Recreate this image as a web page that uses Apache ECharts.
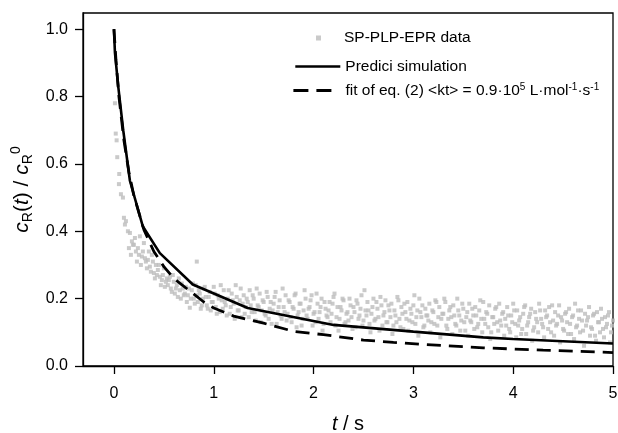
<!DOCTYPE html>
<html>
<head>
<meta charset="utf-8">
<script src="https://cdn.jsdelivr.net/npm/echarts@6/dist/echarts.min.js"></script>
<style>html,body{margin:0;padding:0;background:#fff}#c{width:618px;height:433px}</style>
</head>
<body>
<div id="c"></div>
<script>
// SP-PLP-EPR data: [t / s, cR(t)/cR0]
var epsData = [
[0.01,0.78],[0.018,0.69],[0.027,0.67],[0.033,0.62],[0.05,0.54],[0.053,0.57],[0.07,0.51],[0.09,0.50],[0.10,0.44],[0.11,0.42],[0.12,0.43],
[0.14,0.40],[0.15,0.35],[0.16,0.395],[0.17,0.33],[0.18,0.37],[0.19,0.36],[0.20,0.36],[0.21,0.38],[0.22,0.34],[0.23,0.31],
[0.24,0.35],[0.25,0.33],[0.26,0.385],[0.27,0.30],[0.28,0.325],[0.29,0.34],[0.30,0.365],[0.31,0.32],[0.32,0.31],[0.33,0.29],
[0.34,0.315],[0.35,0.34],[0.36,0.295],[0.37,0.28],[0.38,0.33],[0.39,0.31],[0.40,0.276],[0.41,0.26],[0.42,0.30],[0.43,0.27],
[0.44,0.285],[0.45,0.30],[0.46,0.265],[0.47,0.24],[0.48,0.255],[0.49,0.27],[0.50,0.29],[0.51,0.235],[0.52,0.25],[0.53,0.26],
[0.54,0.24],[0.56,0.265],[0.58,0.22],[0.60,0.25],[0.62,0.23],[0.64,0.205],[0.66,0.225],[0.68,0.245],[0.70,0.21],[0.72,0.235],
[0.74,0.21],[0.76,0.173],[0.78,0.225],[0.80,0.20],[0.82,0.24],[0.83,0.31],[0.84,0.19],[0.86,0.215],[0.88,0.18],[0.90,0.23],[0.92,0.205],
[0.94,0.17],[0.96,0.22],[0.98,0.19],[1.00,0.235],[1.02,0.175],[1.04,0.21],[1.06,0.16],[1.08,0.195],[1.10,0.225],[1.12,0.18],
[1.14,0.20],[1.16,0.155],[1.18,0.215],[1.20,0.185],[1.22,0.24],[1.24,0.165],[1.26,0.195],[1.28,0.145],[1.30,0.21],[1.32,0.175],
[1.34,0.19],[1.36,0.225],[1.38,0.16],[1.40,0.20],[1.42,0.135],[1.44,0.18],[1.46,0.215],[1.48,0.165],[1.50,0.19],[1.52,0.15],
[1.54,0.205],[1.56,0.17],[1.58,0.125],[1.60,0.185],[1.62,0.22],[1.64,0.16],[1.66,0.195],[1.68,0.14],[1.70,0.175],[1.72,0.21],
[1.74,0.155],[1.76,0.19],[1.78,0.13],[1.80,0.17],[1.82,0.215],[1.84,0.15],[1.86,0.185],[1.88,0.12],[1.90,0.165],[1.92,0.20],
[1.94,0.14],[1.96,0.175],[1.98,0.21],[2.00,0.155],[2.02,0.13],[2.04,0.185],[2.06,0.16],[2.08,0.20],[2.10,0.125],[2.12,0.17],
[2.14,0.145],[2.16,0.19],[2.18,0.155],[2.20,0.205],[2.22,0.12],[2.24,0.175],[2.26,0.14],[2.28,0.165],[2.30,0.195],[2.32,0.13],
[2.34,0.16],[2.36,0.20],[2.38,0.145],[2.40,0.175],[2.42,0.115],[2.44,0.185],[2.46,0.15],[2.48,0.21],[2.50,0.135],[2.52,0.165],
[2.54,0.19],[2.56,0.125],[2.58,0.155],[2.60,0.20],[2.62,0.14],[2.64,0.17],[2.66,0.105],[2.68,0.18],[2.70,0.15],[2.72,0.195],
[2.74,0.13],[2.76,0.165],[2.78,0.185],[2.80,0.12],[2.82,0.15],[2.84,0.205],[2.86,0.14],[2.88,0.175],[2.90,0.11],[2.92,0.16],
[2.94,0.19],[2.96,0.135],[2.98,0.155],[3.00,0.18],[3.02,0.125],[3.04,0.165],[3.06,0.20],[3.08,0.145],[3.10,0.115],[3.12,0.17],
[3.14,0.15],[3.16,0.185],[3.18,0.13],[3.20,0.16],[3.22,0.195],[3.24,0.12],[3.26,0.175],[3.28,0.14],[3.30,0.155],[3.32,0.19],
[3.34,0.11],[3.36,0.165],[3.38,0.145],[3.40,0.18],[3.42,0.125],[3.44,0.20],[3.46,0.15],[3.48,0.135],[3.50,0.17],[3.52,0.105],
[3.54,0.16],[3.56,0.185],[3.58,0.13],[3.60,0.15],[3.62,0.175],[3.64,0.115],[3.66,0.165],[3.68,0.14],[3.70,0.19],[3.72,0.125],
[3.74,0.155],[3.76,0.18],[3.78,0.10],[3.80,0.145],[3.82,0.17],[3.84,0.13],[3.86,0.185],[3.88,0.12],[3.90,0.16],[3.92,0.14],
[3.94,0.175],[3.96,0.11],[3.98,0.15],[4.00,0.185],[4.02,0.125],[4.04,0.165],[4.06,0.135],[4.08,0.095],[4.10,0.155],[4.12,0.18],
[4.14,0.12],[4.16,0.145],[4.18,0.17],[4.20,0.105],[4.22,0.16],[4.24,0.13],[4.26,0.185],[4.28,0.14],[4.30,0.115],[4.32,0.165],
[4.34,0.15],[4.36,0.175],[4.38,0.10],[4.40,0.135],[4.42,0.16],[4.44,0.125],[4.46,0.18],[4.48,0.145],[4.50,0.11],[4.52,0.155],
[4.54,0.13],[4.56,0.17],[4.58,0.095],[4.60,0.15],[4.62,0.185],[4.64,0.12],[4.66,0.14],[4.68,0.165],[4.70,0.105],[4.72,0.155],
[4.74,0.135],[4.76,0.175],[4.78,0.115],[4.80,0.15],[4.82,0.09],[4.84,0.16],[4.86,0.13],[4.88,0.17],[4.90,0.11],[4.92,0.145],
[4.94,0.125],[4.96,0.16],[4.98,0.10],[5.00,0.135]
];
// second interleaved read of the same scatter band
var epsData2 = [
[0.55,0.255],[0.57,0.23],[0.59,0.27],[0.61,0.215],[0.63,0.24],[0.65,0.26],[0.67,0.20],[0.69,0.23],[0.71,0.215],[0.73,0.19],
[0.75,0.23],[0.77,0.20],[0.79,0.245],[0.81,0.185],[0.83,0.21],[0.85,0.225],[0.87,0.17],[0.89,0.20],[0.91,0.235],[0.93,0.18],
[0.95,0.205],[0.97,0.165],[0.99,0.19],[1.01,0.215],[1.03,0.155],[1.05,0.20],[1.07,0.24],[1.09,0.17],[1.11,0.19],[1.13,0.15],
[1.15,0.225],[1.17,0.175],[1.19,0.195],[1.21,0.14],[1.23,0.205],[1.25,0.165],[1.27,0.23],[1.29,0.185],[1.31,0.155],[1.33,0.20],
[1.35,0.145],[1.37,0.18],[1.39,0.21],[1.41,0.16],[1.43,0.23],[1.45,0.175],[1.47,0.13],[1.49,0.195],[1.51,0.155],[1.53,0.22],
[1.55,0.14],[1.57,0.19],[1.59,0.165],[1.61,0.205],[1.63,0.125],[1.65,0.175],[1.67,0.15],[1.69,0.23],[1.71,0.16],[1.73,0.135],
[1.75,0.195],[1.77,0.145],[1.79,0.175],[1.81,0.21],[1.83,0.115],[1.85,0.16],[1.87,0.185],[1.89,0.14],[1.91,0.225],[1.93,0.15],
[1.95,0.17],[1.97,0.195],[1.99,0.12],[2.01,0.16],[2.03,0.215],[2.05,0.14],[2.07,0.175],[2.09,0.105],[2.11,0.19],[2.13,0.15],
[2.15,0.165],[2.17,0.13],[2.19,0.185],[2.21,0.215],[2.23,0.145],[2.25,0.105],[2.27,0.175],[2.29,0.20],[2.31,0.125],[2.33,0.155],
[2.35,0.135],[2.37,0.18],[2.39,0.11],[2.41,0.16],[2.43,0.195],[2.45,0.14],[2.47,0.17],[2.49,0.12],[2.51,0.225],[2.53,0.15],
[2.55,0.165],[2.57,0.10],[2.59,0.175],[2.61,0.135],[2.63,0.19],[2.65,0.145],[2.67,0.205],[2.69,0.12],[2.71,0.16],[2.73,0.13],
[2.75,0.18],[2.77,0.145],[2.79,0.095],[2.81,0.165],[2.83,0.13],[2.85,0.195],[2.87,0.115],[2.89,0.155],[2.91,0.185],[2.93,0.14],
[2.95,0.105],[2.97,0.17],[2.99,0.13],[3.01,0.21],[3.03,0.145],[3.05,0.09],[3.07,0.16],[3.09,0.18],[3.11,0.12],[3.13,0.15],
[3.15,0.135],[3.17,0.10],[3.19,0.165],[3.21,0.125],[3.23,0.19],[3.25,0.145],[3.27,0.085],[3.29,0.155],[3.31,0.20],[3.33,0.12],
[3.35,0.14],[3.37,0.175],[3.39,0.095],[3.41,0.15],[3.43,0.12],[3.45,0.165],[3.47,0.105],[3.49,0.185],[3.51,0.13],[3.53,0.145],
[3.55,0.09],[3.57,0.135],[3.59,0.17],[3.61,0.11],[3.63,0.15],[3.65,0.125],[3.67,0.195],[3.69,0.10],[3.71,0.14],[3.73,0.16],
[3.75,0.115],[3.77,0.08],[3.79,0.145],[3.81,0.125],[3.83,0.175],[3.85,0.105],[3.87,0.135],[3.89,0.155],[3.91,0.09],[3.93,0.12],
[3.95,0.15],[3.97,0.10],[3.99,0.13],[4.01,0.165],[4.03,0.085],[4.05,0.12],[4.07,0.145],[4.09,0.11],[4.11,0.175],[4.13,0.095],
[4.15,0.13],[4.17,0.155],[4.19,0.075],[4.21,0.115],[4.23,0.14],[4.25,0.10],[4.27,0.165],[4.29,0.125],[4.31,0.085],[4.33,0.145],
[4.35,0.11],[4.37,0.13],[4.39,0.18],[4.41,0.09],[4.43,0.12],[4.45,0.15],[4.47,0.07],[4.49,0.135],[4.51,0.105],[4.53,0.16],
[4.55,0.095],[4.57,0.125],[4.59,0.145],[4.61,0.08],[4.63,0.115],[4.65,0.165],[4.67,0.10],[4.69,0.135],[4.71,0.06],[4.73,0.12],
[4.75,0.145],[4.77,0.09],[4.79,0.11],[4.81,0.155],[4.83,0.075],[4.85,0.13],[4.87,0.10],[4.89,0.14],[4.91,0.085],[4.93,0.115],
[4.95,0.15],[4.97,0.07],[4.99,0.12]
];

// Predici simulation
var simT = [0, 0.01, 0.043, 0.093, 0.16, 0.29, 0.46, 0.79, 1.34, 2.2, 3.0, 3.7, 4.0, 5.0];
var simC = [1.0, 0.93, 0.83, 0.70, 0.55, 0.414, 0.335, 0.242, 0.172, 0.122, 0.102, 0.085, 0.080, 0.067];

// fit of eq. (2)
var fitT = [0, 0.02, 0.05, 0.1, 0.15, 0.2, 0.3, 0.4, 0.5, 0.6, 0.75, 0.9, 1.0, 1.2, 1.5, 1.8, 2.1, 2.5, 2.8, 3.1, 3.7, 4.3, 5.0];
var fitC = [1.0, 0.91, 0.80, 0.67, 0.575, 0.505, 0.405, 0.34, 0.295, 0.26, 0.225, 0.19, 0.172, 0.148, 0.127, 0.103, 0.093, 0.077, 0.070, 0.064, 0.054, 0.047, 0.040];

var xTicks = [0, 1, 2, 3, 4, 5];
var yTicks = [0, 0.2, 0.4, 0.6, 0.8, 1.0];

var FONT = 'Liberation Sans, Arial, sans-serif';

function pairs(a, b) { return a.map(function (v, i) { return [v, b[i]]; }); }

var chart = echarts.init(document.getElementById('c'), null, {renderer: 'canvas'});
chart.setOption({
  animation: false,
  backgroundColor: '#fff',
  grid: {left: 83, right: 5, top: 13, bottom: 67, containLabel: false, outerBoundsMode: 'none',
    show: true, borderColor: '#000', borderWidth: 1.3, backgroundColor: 'transparent'},
  xAxis: {
    type: 'value', min: -0.31, max: 5,
    axisLine: {show: true, onZero: false, lineStyle: {color: '#000', width: 1.3}},
    axisTick: {show: true, length: 8, inside: false, customValues: xTicks, lineStyle: {color: '#000', width: 1.3}},
    axisLabel: {customValues: xTicks, color: '#000', fontFamily: FONT, fontSize: 16, margin: 20},
    splitLine: {show: false},
    name: '{i|t}{n| / s}', nameLocation: 'middle', nameGap: 48,
    nameTextStyle: {rich: {
      i: {fontFamily: FONT, fontSize: 20, fontStyle: 'italic', color: '#000'},
      n: {fontFamily: FONT, fontSize: 20, color: '#000'}
    }}
  },
  yAxis: {
    type: 'value', min: 0, max: 1.048,
    axisLine: {show: true, onZero: false, lineStyle: {color: '#000', width: 1.3}},
    axisTick: {show: true, length: 8, inside: false, customValues: yTicks, lineStyle: {color: '#000', width: 1.3}},
    axisLabel: {customValues: yTicks, color: '#000', fontFamily: FONT, fontSize: 16, margin: 15,
      formatter: function (v) { return v.toFixed(1); }},
    splitLine: {show: false},
    name: '{i|c}{sub|R}{n|(}{i|t}{n|) / }{i|c}{sub|R}{sup|0}', nameLocation: 'middle', nameGap: 40, nameRotate: 90,
    nameTextStyle: {rich: {
      i: {fontFamily: FONT, fontSize: 21, fontStyle: 'italic', color: '#000', lineHeight: 26},
      n: {fontFamily: FONT, fontSize: 21, color: '#000', lineHeight: 26},
      sub: {fontFamily: FONT, fontSize: 14, color: '#000', verticalAlign: 'bottom', lineHeight: 14},
      sup: {fontFamily: FONT, fontSize: 14, color: '#000', verticalAlign: 'top', lineHeight: 14}
    }}
  },
  legend: [
    {data: ['SP-PLP-EPR data'], left: 311, top: 25, selectedMode: false, icon: 'rect', itemWidth: 5, itemHeight: 5,
     formatter: function (n) { return '{g|}{t|' + n + '}'; },
     textStyle: {rich: {g: {width: 18}, t: {fontFamily: FONT, fontSize: 15.5, color: '#000', lineHeight: 17}}}},
    {data: ['Predici simulation'], left: 289, top: 53, selectedMode: false, itemWidth: 45, itemHeight: 14,
     itemStyle: {opacity: 0}, lineStyle: {width: 2.6},
     textStyle: {fontFamily: FONT, fontSize: 15.5, color: '#000', lineHeight: 17}},
    {data: ['fit of eq. (2)'], left: 287, top: 77, selectedMode: false, itemWidth: 47, itemHeight: 14,
     itemStyle: {opacity: 0}, lineStyle: {width: 2.8, type: [15, 8, 15, 20]},
     formatter: function () { return '{n|fit of eq. (2) <kt> = 0.9·10}{s|5}{n| L·mol}{s|-1}{n|·s}{s|-1}'; },
     textStyle: {rich: {
       n: {fontFamily: FONT, fontSize: 15.5, color: '#000', lineHeight: 17},
       s: {fontFamily: FONT, fontSize: 10, color: '#000', verticalAlign: 'top', lineHeight: 10}
     }}}
  ],
  series: [
    {name: 'SP-PLP-EPR data', type: 'scatter', data: epsData.concat(epsData2), symbol: 'rect', symbolSize: 4,
     itemStyle: {color: '#bdbdbd'}, z: 1},
    {name: 'Predici simulation', type: 'line', data: pairs(simT, simC), symbol: 'none', smooth: false,
     lineStyle: {color: '#000', width: 2.6}, itemStyle: {color: '#000'}, z: 3},
    {name: 'fit of eq. (2)', type: 'line', data: pairs(fitT, fitC), symbol: 'none', smooth: false,
     lineStyle: {color: '#000', width: 2.8, type: [14, 8]}, itemStyle: {color: '#000'}, z: 2}
  ]
});
</script>
</body>
</html>
